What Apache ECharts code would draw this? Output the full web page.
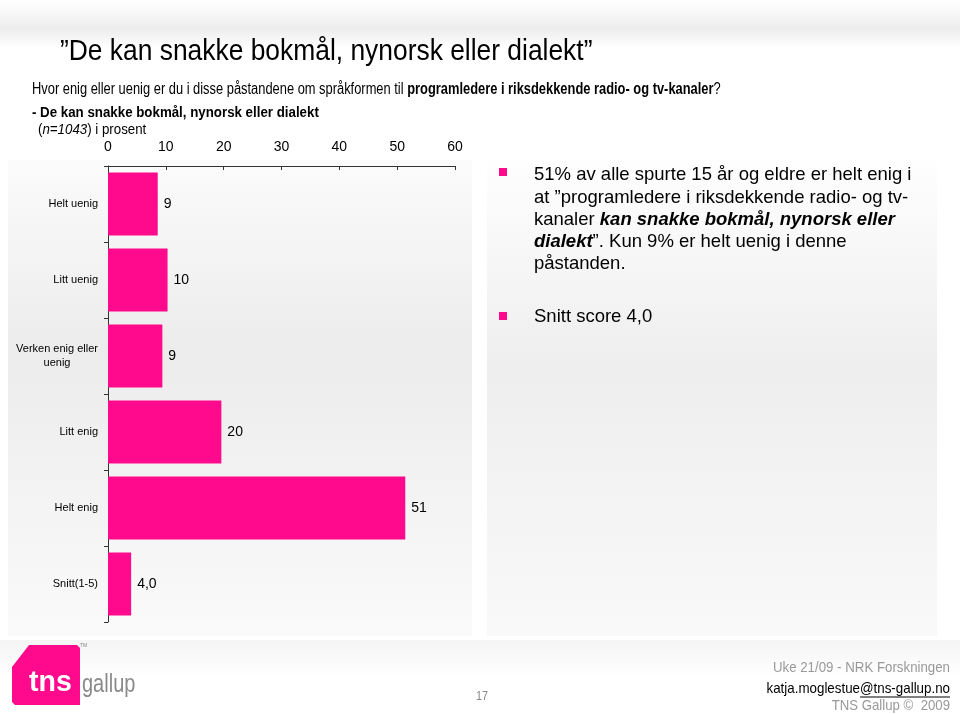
<!DOCTYPE html>
<html>
<head>
<meta charset="utf-8">
<script src="https://cdn.jsdelivr.net/npm/echarts@6/dist/echarts.min.js"></script>
<style>
html,body{margin:0;padding:0;background:#fff;}
#chart{width:960px;height:714px;}
</style>
</head>
<body>
<div id="chart"></div>
<script>
// ---- data ----
var categories = ['Helt uenig', 'Litt uenig', 'Verken enig eller uenig', 'Litt enig', 'Helt enig', 'Snitt(1-5)'];
var values = [8.6, 10.3, 9.4, 19.6, 51.4, 4.0];
var xTicks = [0, 10, 20, 30, 40, 50, 60];

var PINK = '#ff0a8c';
var SANS = '"Liberation Sans", Arial, sans-serif';

var chart = echarts.init(document.getElementById('chart'), null, {renderer: 'canvas'});

function txt(x, y, sx, style, align) {
  style.align = align || 'left';
  style.verticalAlign = 'middle';
  style.x = 0; style.y = 0;
  return {type: 'text', silent: true, x: x, y: y, scaleX: sx, originX: 0, originY: 0, style: style};
}

var option = {
  backgroundColor: '#ffffff',
  animation: false,
  grid: {left: 108, right: 505, top: 166, bottom: 92, containLabel: false},
  xAxis: {
    type: 'value',
    position: 'top',
    min: xTicks[0],
    max: xTicks[xTicks.length - 1],
    interval: xTicks[1] - xTicks[0],
    axisLine: {show: true, lineStyle: {color: '#333', width: 1}},
    axisTick: {show: true, inside: true, length: 4, lineStyle: {color: '#333'}},
    axisLabel: {color: '#000', fontSize: 14, fontFamily: SANS, margin: 12},
    splitLine: {show: false}
  },
  yAxis: {
    type: 'category',
    inverse: true,
    data: categories,
    axisLine: {show: true, lineStyle: {color: '#333', width: 1}},
    axisTick: {show: true, length: 4, lineStyle: {color: '#333'}},
    axisLabel: {
      color: '#000', fontSize: 11, fontFamily: SANS, margin: 10, lineHeight: 14,
      formatter: function (v) {
        if (v === 'Verken enig eller uenig') {
          return '{a|Verken enig eller}\n{c|uenig}';
        }
        return v;
      },
      rich: {
        a: {fontSize: 11, fontFamily: SANS, color: '#000', lineHeight: 14},
        c: {fontSize: 11, fontFamily: SANS, color: '#000', lineHeight: 14, width: 82, align: 'center'}
      }
    },
    splitLine: {show: false}
  },
  series: [{
    type: 'bar',
    data: values,
    barCategoryGap: '17%',
    itemStyle: {color: PINK},
    label: {
      show: true,
      position: 'right',
      distance: 6,
      color: '#000',
      fontSize: 14,
      fontFamily: SANS,
      formatter: function (p) {
        if (p.dataIndex === values.length - 1) {
          return p.value.toFixed(1).replace('.', ',');
        }
        return String(Math.round(p.value));
      }
    },
    z: 5
  }],
  graphic: [
    // top header band
    {type: 'rect', z: -10, silent: true, shape: {x: 0, y: 0, width: 960, height: 48},
      style: {fill: new echarts.graphic.LinearGradient(0, 0, 0, 1, [
        {offset: 0, color: '#ffffff'}, {offset: 0.6, color: '#ededed'}, {offset: 1, color: '#ffffff'}])}},
    // left panel
    {type: 'rect', z: -10, silent: true, shape: {x: 8, y: 160, width: 464, height: 476},
      style: {fill: new echarts.graphic.LinearGradient(0, 0, 0, 1, [
        {offset: 0, color: '#fbfbfb'}, {offset: 0.4, color: '#ececec'}, {offset: 1, color: '#fafafa'}])}},
    // right panel
    {type: 'rect', z: -10, silent: true, shape: {x: 487, y: 150, width: 450, height: 486},
      style: {fill: new echarts.graphic.LinearGradient(0, 0, 0, 1, [
        {offset: 0, color: '#ffffff'}, {offset: 0.45, color: '#eeeeee'}, {offset: 1, color: '#f9f9f9'}])}},
    // footer band
    {type: 'rect', z: -10, silent: true, shape: {x: 0, y: 640, width: 960, height: 74},
      style: {fill: new echarts.graphic.LinearGradient(0, 0, 0, 1, [
        {offset: 0, color: '#f4f4f4'}, {offset: 0.5, color: '#ffffff'}, {offset: 1, color: '#ffffff'}])}},

    // title
    txt(60, 52, 0.91, {text: '\u201DDe kan snakke bokmål, nynorsk eller dialekt\u201D', fontSize: 29, fontFamily: SANS, fill: '#000'}),
    // subtitle
    txt(32, 90, 0.805, {
      text: '{n|Hvor enig eller uenig er du i disse påstandene om språkformen til }{b|programledere i riksdekkende radio- og tv-kanaler}{n|?}',
      rich: {
        n: {fontSize: 16, fontFamily: SANS, color: '#000'},
        b: {fontSize: 16, fontFamily: SANS, fontWeight: 'bold', color: '#000'}
      }
    }),
    txt(32, 113, 0.95, {text: '- De kan snakke bokmål, nynorsk eller dialekt', fontSize: 14, fontWeight: 'bold', fontFamily: SANS, fill: '#000'}),
    txt(38, 130, 0.95, {
      text: '{n|(}{i|n=1043}{n|) i prosent}',
      rich: {
        n: {fontSize: 14, fontFamily: SANS, color: '#000'},
        i: {fontSize: 14, fontFamily: SANS, fontStyle: 'italic', color: '#000'}
      }
    }),

    // right panel bullets
    {type: 'rect', silent: true, shape: {x: 499, y: 168, width: 8, height: 8}, style: {fill: PINK}},
    {type: 'rect', silent: true, shape: {x: 499, y: 312, width: 8, height: 8}, style: {fill: PINK}},
    {type: 'text', silent: true, x: 534, y: 164,
      style: {
        x: 0, y: 0, align: 'left', verticalAlign: 'top',
        text: '{n|51% av alle spurte 15 år og eldre er helt enig i}\n' +
              '{n|at \u201Dprogramledere i riksdekkende radio- og tv-}\n' +
              '{n|kanaler }{bi|kan snakke bokmål, nynorsk eller}\n' +
              '{bi|dialekt}{n|\u201D. Kun 9% er helt uenig i denne}\n' +
              '{n|påstanden.}',
        rich: {
          n: {fontSize: 18.5, fontFamily: SANS, color: '#000', lineHeight: 22.3},
          bi: {fontSize: 18.5, fontFamily: SANS, fontWeight: 'bold', fontStyle: 'italic', color: '#000', lineHeight: 22.3}
        }
      }},
    txt(534, 317, 1, {text: 'Snitt score 4,0', fontSize: 18.5, fontFamily: SANS, fill: '#000'}),

    // logo
    {type: 'polygon', silent: true,
      shape: {points: [[12, 667], [29, 645], [77, 645], [80, 648], [80, 705], [15, 705], [12, 702]]},
      style: {fill: PINK}},
    txt(29, 683, 0.95, {text: 'tns', fontSize: 30, fontWeight: 'bold', fontFamily: SANS, fill: '#ffffff'}),
    txt(82, 685, 0.8, {text: 'gallup', fontSize: 25, fontFamily: SANS, fill: '#8a8a8a'}),
    txt(80, 646, 1, {text: 'TM', fontSize: 5, fontFamily: SANS, fill: '#888'}),

    // page number
    txt(476, 697, 0.9, {text: '17', fontSize: 12, fontFamily: SANS, fill: '#888'}),

    // footer right
    txt(950, 668, 0.885, {text: 'Uke 21/09 - NRK Forskningen', fontSize: 15, fontFamily: SANS, fill: '#999'}, 'right'),
    txt(950, 689, 0.89, {
      text: '{g|katja.moglestue}{k|@tns-gallup.no}',
      rich: {
        g: {fontSize: 15, fontFamily: SANS, color: '#999'},
        k: {fontSize: 15, fontFamily: SANS, color: '#000'}
      }
    }, 'right'),
    {type: 'line', silent: true, shape: {x1: 860, y1: 697, x2: 950, y2: 697}, style: {stroke: '#000', lineWidth: 1}},
    txt(950, 706, 0.88, {text: 'TNS Gallup \u00A9  2009', fontSize: 15, fontFamily: SANS, fill: '#999'}, 'right')
  ]
};

chart.setOption(option);
</script>
</body>
</html>
